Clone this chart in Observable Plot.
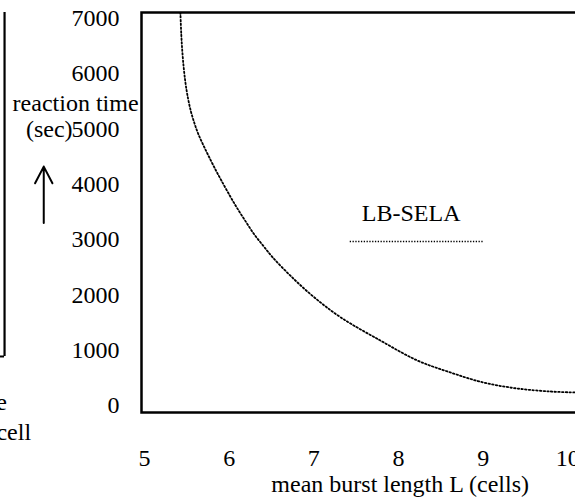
<!DOCTYPE html>
<html>
<head>
<meta charset="utf-8">
<script src="https://cdn.jsdelivr.net/npm/d3@7"></script>
<script src="https://cdn.jsdelivr.net/npm/@observablehq/plot@0.6"></script>
<style>
  html, body { margin: 0; padding: 0; background: #fff; overflow: hidden; width: 575px; height: 498px; }
  #chart { width: 575px; height: 498px; overflow: hidden; }
  #chart svg { max-width: none !important; }
</style>
</head>
<body>
<div id="chart"></div>
<script>
// Curve: mean burst length L (cells) vs reaction time (sec), LB-SELA
const burstLength = [5.424, 5.434, 5.446, 5.463, 5.485, 5.512, 5.547, 5.587, 5.633, 5.697, 5.766, 5.844, 5.908, 6.007, 6.090, 6.188, 6.289, 6.400, 6.516, 6.745, 7.007, 7.320, 7.786, 8.223, 8.613, 9.002, 9.404, 9.793, 10.088, 10.15];
const reactionTime = [7107, 6727, 6420, 6112, 5823, 5570, 5325, 5118, 4919, 4702, 4485, 4250, 4069, 3797, 3580, 3345, 3110, 2893, 2676, 2315, 1953, 1591, 1175, 814, 597, 416, 307, 253, 235, 232];

const xTicks = [5, 6, 7, 8, 9, 10];
const yTicks = [0, 1000, 2000, 3000, 4000, 5000, 6000, 7000];

const seriesName = "LB-SELA";
const xLabel = "mean burst length L (cells)";
const yLabel1 = "reaction time";
const yLabel2 = "(sec)";

// legend sample line & label anchor (data units)
const legendLineX = [7.43, 9.01];
const legendLineY = 2966;
const legendTextX = 8.15;
const legendTextY = 3472;

// annotation positions in the left margin (data units)
const yLabel1Pos = {x: 4.93, y: 5461};
const yLabel2Pos = {x: 4.15, y: 4990};
const arrowPos = {x: 3.81, yFrom: 3300, yTo: 4320};
// fragment of the neighbouring figure at the left edge
const fragLine = {x: 3.347, y1: 886, y2: 7107};
const fragFoot = {x1: 3.29, x2: 3.347, y: 886};
const fragText = [{t: "e", x: 3.375, y: 54}, {t: "cell", x: 3.66, y: -488}];

const data = burstLength.map((L, i) => ({L, t: reactionTime[i]}));

const font = "'Liberation Serif', 'Times New Roman', Times, serif";

const chart = Plot.plot({
  width: 592,
  height: 498,
  marginLeft: 141,
  marginRight: 12,
  marginTop: 12,
  marginBottom: 86,
  style: {fontFamily: font, fontSize: "24px", color: "#000", background: "#fff", overflow: "visible"},
  x: {domain: [4.9646, 10.15], ticks: xTicks, tickFormat: d => String(d)},
  y: {domain: [-127, 7107], ticks: yTicks, tickFormat: d => String(d)},
  marks: [
    Plot.frame({stroke: "#000", strokeWidth: 2.5}),
    Plot.axisX({ticks: xTicks, tickSize: 0, tickPadding: 36, label: null, fontSize: 24, tickFormat: d => String(d)}),
    Plot.axisY({ticks: yTicks, tickSize: 0, tickPadding: 22, label: null, fontSize: 24, tickFormat: d => String(d)}),
    Plot.line(data, {x: "L", y: "t", curve: "catmull-rom", stroke: "#000", strokeWidth: 1.8, strokeDasharray: "1.5 2.2", clip: true}),
    Plot.ruleY([legendLineY], {x1: legendLineX[0], x2: legendLineX[1], stroke: "#000", strokeWidth: 1.5, strokeDasharray: "1.3 1.5"}),
    Plot.text([seriesName], {x: legendTextX, y: legendTextY, fontSize: 24, fill: "#000"}),
    Plot.text([xLabel], {x: 8.02, frameAnchor: "bottom", dy: 79, fontSize: 24, fill: "#000", clip: false}),
    Plot.text([yLabel1], {x: yLabel1Pos.x, y: yLabel1Pos.y, textAnchor: "end", fontSize: 24, fill: "#000", clip: false}),
    Plot.text([yLabel2], {x: yLabel2Pos.x, y: yLabel2Pos.y, textAnchor: "end", fontSize: 24, fill: "#000", clip: false}),
    Plot.arrow([arrowPos], {x1: "x", y1: "yFrom", x2: "x", y2: "yTo", stroke: "#000", strokeWidth: 2, headLength: 24, headAngle: 55, clip: false}),
    Plot.ruleX([fragLine.x], {y1: fragLine.y1, y2: fragLine.y2, stroke: "#000", strokeWidth: 2.2, clip: false}),
    Plot.ruleY([fragFoot.y], {x1: fragFoot.x1, x2: fragFoot.x2, stroke: "#000", strokeWidth: 2, clip: false}),
    Plot.text(fragText, {x: "x", y: "y", text: "t", textAnchor: "end", fontSize: 24, fill: "#000", clip: false})
  ]
});

chart.style.maxWidth = "none";
document.getElementById("chart").appendChild(chart);
</script>
</body>
</html>
